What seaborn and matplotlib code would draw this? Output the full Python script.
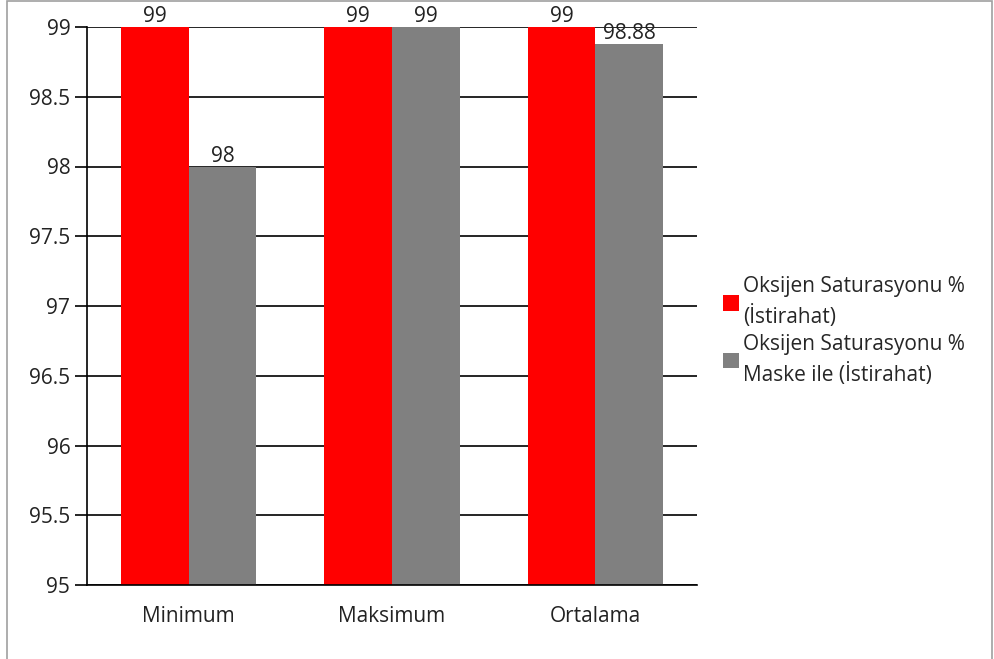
import matplotlib
matplotlib.use("Agg")
import matplotlib.pyplot as plt
from matplotlib.patches import Rectangle, Patch
import seaborn as sns
import pandas as pd

categories = ["Minimum", "Maksimum", "Ortalama"]
series_names = ["Oksijen Saturasyonu %\n(İstirahat)",
                "Oksijen Saturasyonu %\nMaske ile (İstirahat)"]
rest_values = [99, 99, 99]
mask_values = [98, 99, 98.88]
y_ticks = [95, 95.5, 96, 96.5, 97, 97.5, 98, 98.5, 99]
colors = ["#ff0000", "#808080"]

df = pd.DataFrame({
    "Kategori": categories * 2,
    "Seri": [series_names[0]] * 3 + [series_names[1]] * 3,
    "Deger": rest_values + mask_values,
})

sns.set_theme(style="white")
plt.rcParams["font.family"] = ["Open Sans", "DejaVu Sans"]
FS = 15

fig = plt.figure(figsize=(9.95, 6.59), dpi=100)
ax = fig.add_axes([87 / 995, 1 - 585 / 659, (697 - 87) / 995, (585 - 27) / 659])

sns.barplot(data=df, x="Kategori", y="Deger", hue="Seri", order=categories,
            hue_order=series_names, palette=colors, width=0.667,
            saturation=1, linewidth=0, ax=ax, legend=False)

ax.set_ylim(95, 99)
ax.set_xlim(-0.5, 2.5)
ax.set_yticks(y_ticks)
ax.set_yticklabels([f"{t:g}" for t in y_ticks], fontsize=FS, color="#222222")
ax.yaxis.grid(True, color="black", linewidth=1.2)
ax.set_axisbelow(True)

ax.set_xticks(range(len(categories)))
ax.set_xticklabels(categories, fontsize=FS, color="#222222")
ax.set_xticks([-0.5, 0.5, 1.5, 2.5], minor=True)
ax.tick_params(axis="x", which="major", length=0, pad=15)
ax.tick_params(axis="x", which="minor", length=9, width=1.2, color="black",
               direction="out")
ax.tick_params(axis="y", length=9, width=1.2, color="black", direction="out",
               pad=3, left=True)
ax.set_xlabel("")
ax.set_ylabel("")

for s in ["top", "right"]:
    ax.spines[s].set_visible(False)
for s in ["left", "bottom"]:
    ax.spines[s].set_color("black")
    ax.spines[s].set_linewidth(1.2)

for cont in ax.containers:
    labels = ax.bar_label(cont, labels=[f"{b.get_height():g}" for b in cont],
                          padding=0, fontsize=FS, color="#222222")
    for t in labels:
        t.set_clip_on(False)

handles = [Patch(facecolor=c, edgecolor="none") for c in colors]
leg = fig.legend(handles, series_names, loc="center left",
                 bbox_to_anchor=(715 / 995, 1 - 331 / 659), frameon=False,
                 fontsize=FS, handlelength=0.75, handleheight=0.75,
                 handletextpad=0.2, labelspacing=0.25, borderaxespad=0)
for t in leg.get_texts():
    t.set_linespacing(1.45)

fig.patches.append(Rectangle((7 / 995, -0.05), (992 - 7) / 995, 1.05 - 0.5 / 659,
                             transform=fig.transFigure, fill=False,
                             edgecolor="#a0a0a0", linewidth=1.2))

fig.savefig("out.png", dpi=100)
